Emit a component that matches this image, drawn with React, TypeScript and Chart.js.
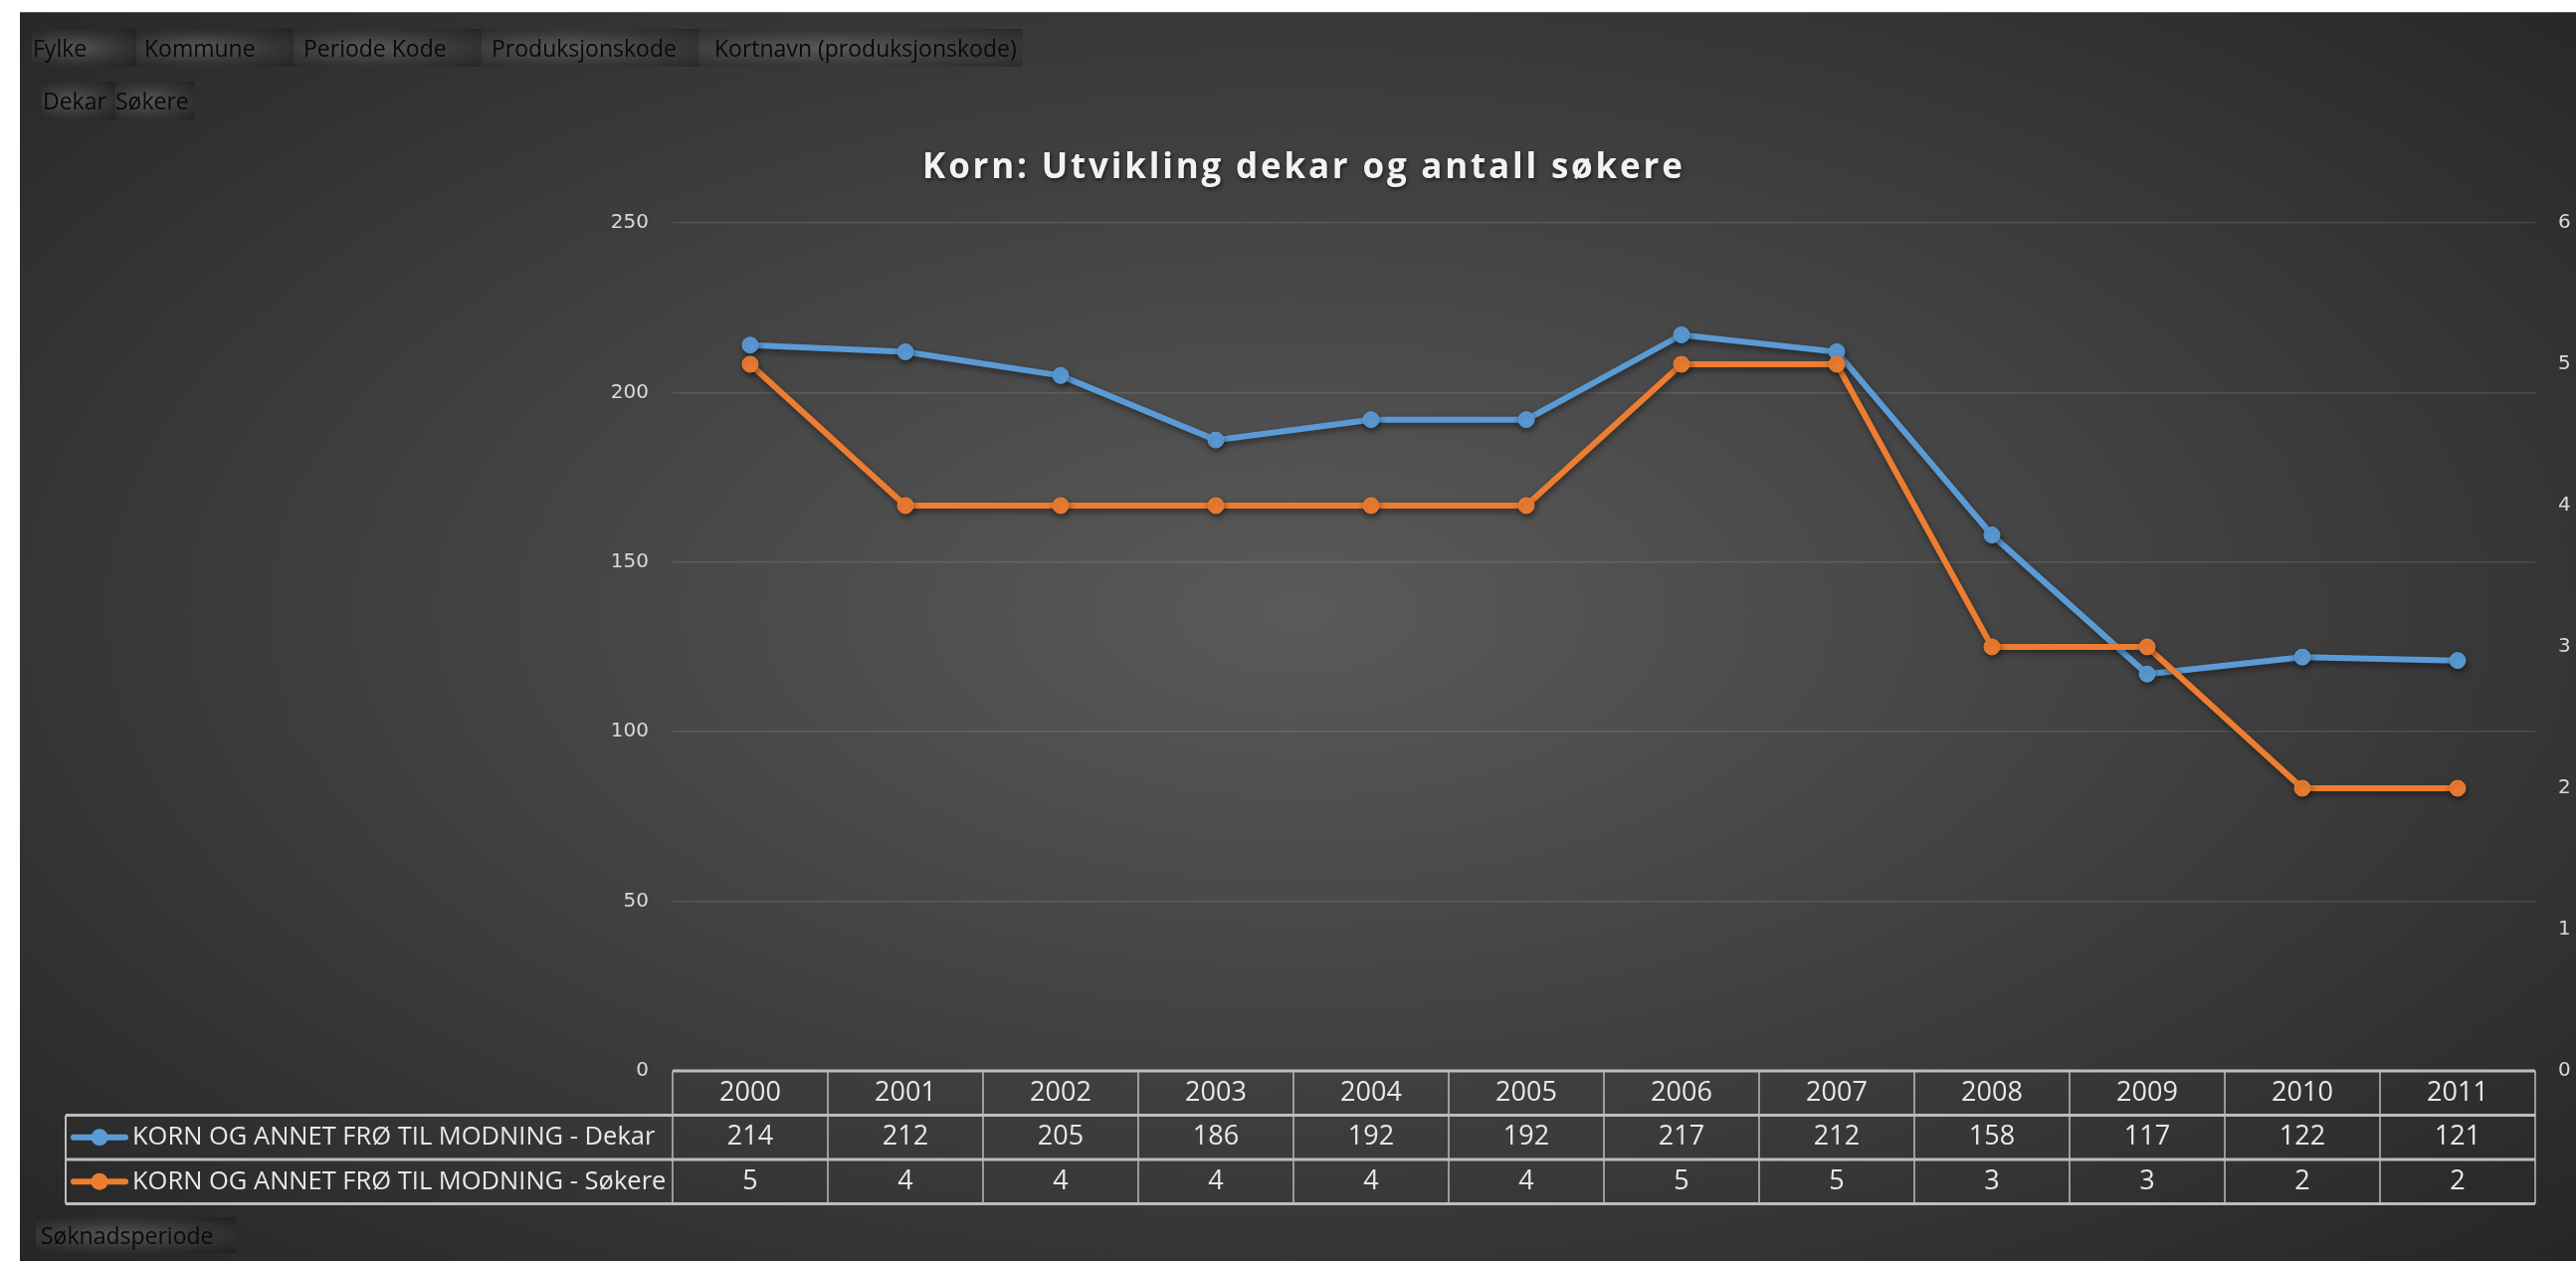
import React, { useEffect, useRef } from 'react';
import { Chart, registerables } from 'chart.js';

Chart.register(...registerables);

// ---------- data ----------
const categories = ['2000', '2001', '2002', '2003', '2004', '2005', '2006', '2007', '2008', '2009', '2010', '2011'];
const dekarValues = [214, 212, 205, 186, 192, 192, 217, 212, 158, 117, 122, 121];
const sokereValues = [5, 4, 4, 4, 4, 4, 5, 5, 3, 3, 2, 2];
const seriesLabels = ['KORN OG ANNET FRØ TIL MODNING - Dekar', 'KORN OG ANNET FRØ TIL MODNING - Søkere'];
const seriesColors = ['#5B9BD5', '#ED7D31'];
const leftAxisMax = 250;
const leftAxisStep = 50;
const rightAxisMax = 6;
const rightAxisStep = 1;
const titleText = 'Korn: Utvikling dekar og antall søkere';
const filterButtons = ['Fylke', 'Kommune', 'Periode Kode', 'Produksjonskode', 'Kortnavn (produksjonskode)'];
const valueButtons = ['Dekar', 'Søkere'];
const axisButtons = ['Søknadsperiode'];

// ---------- layout (panel coords) ----------
const PANEL_W = 2569;
const PANEL_H = 1255;
const filterLayout = [
  { left: 12, width: 105, pad: 1 },
  { left: 117, width: 158, pad: 8 },
  { left: 275, width: 189, pad: 10 },
  { left: 464, width: 218, pad: 10 },
  { left: 682, width: 326, pad: 16 },
];
const valueLayout = [
  { left: 22, width: 74, pad: 1 },
  { left: 96, width: 80, pad: -2 },
];

const FONT = '"Open Sans", "Noto Sans", sans-serif';

const shadowPlugin = {
  id: 'lineShadow',
  beforeDatasetDraw(chart: any) {
    const ctx = chart.ctx;
    ctx.save();
    ctx.shadowColor = 'rgba(0,0,0,0.45)';
    ctx.shadowBlur = 6;
    ctx.shadowOffsetX = 1;
    ctx.shadowOffsetY = 3;
  },
  afterDatasetDraw(chart: any) {
    chart.ctx.restore();
  },
};

// chart title, drawn with letter spacing and a soft shadow like the original
const titlePlugin = {
  id: 'spacedTitle',
  afterDraw(chart: any) {
    const ctx = chart.ctx;
    ctx.save();
    ctx.font = `bold 35px ${FONT}`;
    ctx.fillStyle = '#f2f2f2';
    ctx.textBaseline = 'middle';
    ctx.shadowColor = 'rgba(0,0,0,0.6)';
    ctx.shadowBlur = 4;
    ctx.shadowOffsetX = 1;
    ctx.shadowOffsetY = 2;
    const cx = 1289;
    const cy = 156;
    const spacing = 2.8;
    if ('letterSpacing' in ctx) {
      (ctx as any).letterSpacing = `${spacing}px`;
      ctx.textAlign = 'center';
      ctx.fillText(titleText, cx + spacing / 2, cy);
    } else {
      ctx.textAlign = 'left';
      const chars = Array.from(titleText);
      const total = chars.reduce((s, c) => s + ctx.measureText(c).width + spacing, 0) - spacing;
      let x = cx - total / 2;
      chars.forEach((c) => {
        ctx.fillText(c, x, cy);
        x += ctx.measureText(c).width + spacing;
      });
    }
    ctx.restore();
  },
};

const tablePlugin = {
  id: 'dataTable',
  afterDraw(chart: any) {
    const { ctx, chartArea } = chart;
    const xScale = chart.scales.x;
    const n = categories.length;
    const colW = (chartArea.right - chartArea.left) / n;
    const top = chartArea.bottom;
    const rowH = 44.5;
    const legendLeft = 46;
    ctx.save();
    ctx.strokeStyle = '#bdbdbd';
    const hline = (x1: number, x2: number, y: number, w: number) => {
      ctx.lineWidth = w;
      ctx.beginPath();
      ctx.moveTo(x1, y);
      ctx.lineTo(x2, y);
      ctx.stroke();
    };
    const vline = (x: number, y1: number, y2: number, w: number) => {
      ctx.lineWidth = w;
      ctx.beginPath();
      ctx.moveTo(x, y1);
      ctx.lineTo(x, y2);
      ctx.stroke();
    };
    hline(chartArea.left, chartArea.right, top, 3);
    for (let r = 1; r <= 3; r++) hline(legendLeft, chartArea.right, top + r * rowH, 3);
    for (let i = 0; i <= n; i++) vline(chartArea.left + i * colW, top, top + 3 * rowH, 1.5);
    vline(legendLeft, top + rowH, top + 3 * rowH, 2);

    ctx.fillStyle = '#e8e8e8';
    ctx.font = `27px ${FONT}`;
    ctx.textAlign = 'center';
    ctx.textBaseline = 'middle';
    const rows = [dekarValues, sokereValues];
    categories.forEach((c, i) => {
      const cx = xScale.getPixelForValue(i);
      ctx.fillText(c, cx, top + rowH * 0.5);
      rows.forEach((vals, r) => {
        ctx.fillText(String(vals[i]), cx, top + rowH * (r + 1.5));
      });
    });
    // legend keys
    ctx.textAlign = 'left';
    ctx.font = `25.5px ${FONT}`;
    seriesLabels.forEach((lab, r) => {
      const cy = top + rowH * (r + 1.5);
      ctx.strokeStyle = seriesColors[r];
      ctx.lineWidth = 6;
      ctx.lineCap = 'round';
      ctx.beginPath();
      ctx.moveTo(54, cy);
      ctx.lineTo(106, cy);
      ctx.stroke();
      ctx.fillStyle = seriesColors[r];
      ctx.beginPath();
      ctx.arc(80, cy, 8.5, 0, Math.PI * 2);
      ctx.fill();
      ctx.fillStyle = '#e8e8e8';
      ctx.fillText(lab, 113, cy);
    });
    ctx.restore();
  },
};

const btnStyle = (left: number, top: number, width: number, height: number, pad: number): React.CSSProperties => ({
  position: 'absolute',
  left,
  top,
  width,
  height,
  lineHeight: `${height}px`,
  paddingLeft: pad,
  boxSizing: 'border-box',
  whiteSpace: 'nowrap',
  fontFamily: FONT,
  fontSize: 23,
  color: '#0a0a0a',
  background: 'radial-gradient(ellipse at 40% 50%, rgba(120,120,120,0.55) 0%, rgba(70,70,70,0.35) 55%, rgba(0,0,0,0.25) 100%)',
  zIndex: 2,
});

export default function App() {
  const canvasRef = useRef<HTMLCanvasElement | null>(null);

  useEffect(() => {
    if (!canvasRef.current) return;
    const chart = new Chart(canvasRef.current, {
      type: 'line',
      data: {
        labels: categories,
        datasets: [
          {
            label: seriesLabels[0],
            data: dekarValues,
            yAxisID: 'y',
            borderColor: seriesColors[0],
            backgroundColor: seriesColors[0],
            pointBackgroundColor: seriesColors[0],
            pointBorderColor: seriesColors[0],
            borderWidth: 6,
            pointRadius: 8,
            pointBorderWidth: 1,
            tension: 0,
            order: 1,
          },
          {
            label: seriesLabels[1],
            data: sokereValues,
            yAxisID: 'y1',
            borderColor: seriesColors[1],
            backgroundColor: seriesColors[1],
            pointBackgroundColor: seriesColors[1],
            pointBorderColor: seriesColors[1],
            borderWidth: 6,
            pointRadius: 8,
            pointBorderWidth: 1,
            tension: 0,
            order: 0,
          },
        ],
      },
      options: {
        responsive: false,
        animation: false,
        devicePixelRatio: 1,
        layout: { padding: { top: 211, left: 0, right: 0, bottom: 192 } },
        plugins: {
          legend: { display: false },
          tooltip: { enabled: false },
          title: { display: false },
        },
        scales: {
          x: {
            type: 'category',
            display: false,
            offset: true,
          },
          y: {
            position: 'left',
            min: 0,
            max: leftAxisMax,
            ticks: {
              stepSize: leftAxisStep,
              color: '#d9d9d9',
              font: { family: '"DejaVu Sans", sans-serif', size: 20 },
              padding: 24,
            },
            grid: { color: 'rgba(255,255,255,0.11)', lineWidth: 1.5, drawTicks: false },
            border: { display: false },
            afterFit: (scale: any) => {
              scale.width = 656;
            },
          },
          y1: {
            position: 'right',
            min: 0,
            max: rightAxisMax,
            ticks: {
              stepSize: rightAxisStep,
              color: '#d9d9d9',
              font: { family: '"DejaVu Sans", sans-serif', size: 20 },
              padding: 23,
            },
            grid: { display: false, drawTicks: false },
            border: { display: false },
            afterFit: (scale: any) => {
              scale.width = 41;
            },
          },
        },
      },
      plugins: [shadowPlugin, titlePlugin, tablePlugin],
    } as any);
    return () => chart.destroy();
  }, []);

  return (
    <div style={{ position: 'absolute', left: 0, top: 0, width: 2589, height: 1267, background: '#ffffff', overflow: 'hidden' }}>
      <div
        style={{
          position: 'absolute',
          left: 20,
          top: 12,
          width: PANEL_W,
          height: PANEL_H,
          background: 'radial-gradient(ellipse farthest-corner at 50% 48%, #5a5a5a 0%, #262626 100%)',
          borderTop: '1px solid #5e5e5e',
          boxSizing: 'border-box',
        }}
      >
        <canvas
          ref={canvasRef}
          width={PANEL_W}
          height={PANEL_H}
          style={{ position: 'absolute', left: 0, top: 0, width: PANEL_W, height: PANEL_H, display: 'block' }}
        />
        {filterButtons.map((b, i) => (
          <div key={b} style={btnStyle(filterLayout[i].left, 16, filterLayout[i].width, 38, filterLayout[i].pad)}>
            {b}
          </div>
        ))}
        {valueButtons.map((b, i) => (
          <div key={b} style={btnStyle(valueLayout[i].left, 69, valueLayout[i].width, 38, valueLayout[i].pad)}>
            {b}
          </div>
        ))}
        {axisButtons.map((b) => (
          <div key={b} style={btnStyle(16, 1210, 201, 36, 5)}>
            {b}
          </div>
        ))}
      </div>
    </div>
  );
}
